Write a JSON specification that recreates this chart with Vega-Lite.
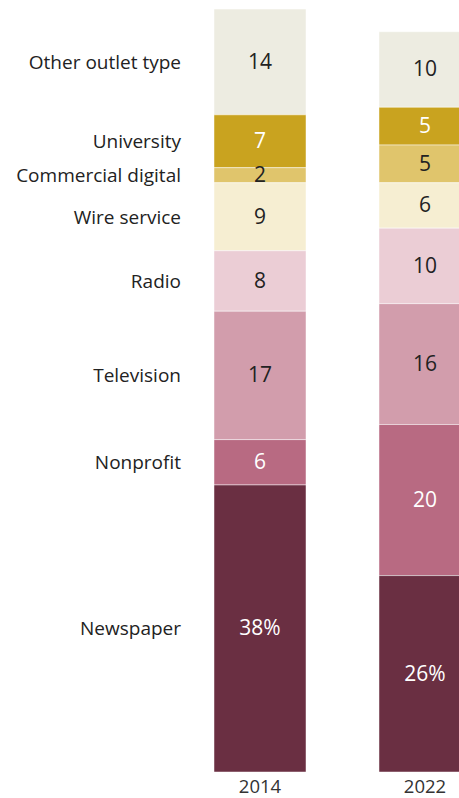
{
  "$schema": "https://vega.github.io/schema/vega-lite/v6.json",
  "autosize": {"type": "none"},
  "width": 245,
  "height": 772,
  "padding": {"left": 214, "top": 0, "right": 0, "bottom": 26},
  "background": "white",
  "config": {"view": {"stroke": null}, "font": "Open Sans"},
  "data": {
    "values": [
      {"year": "2014", "cat": "Other outlet type", "value": 14, "label": "14"},
      {"year": "2014", "cat": "University", "value": 7, "label": "7"},
      {"year": "2014", "cat": "Commercial digital", "value": 2, "label": "2"},
      {"year": "2014", "cat": "Wire service", "value": 9, "label": "9"},
      {"year": "2014", "cat": "Radio", "value": 8, "label": "8"},
      {"year": "2014", "cat": "Television", "value": 17, "label": "17"},
      {"year": "2014", "cat": "Nonprofit", "value": 6, "label": "6"},
      {"year": "2014", "cat": "Newspaper", "value": 38, "label": "38%"},
      {"year": "2022", "cat": "Other outlet type", "value": 10, "label": "10"},
      {"year": "2022", "cat": "University", "value": 5, "label": "5"},
      {"year": "2022", "cat": "Commercial digital", "value": 5, "label": "5"},
      {"year": "2022", "cat": "Wire service", "value": 6, "label": "6"},
      {"year": "2022", "cat": "Radio", "value": 10, "label": "10"},
      {"year": "2022", "cat": "Television", "value": 16, "label": "16"},
      {"year": "2022", "cat": "Nonprofit", "value": 20, "label": "20"},
      {"year": "2022", "cat": "Newspaper", "value": 26, "label": "26%"}
    ]
  },
  "transform": [
    {"calculate": "indexof(['Newspaper','Nonprofit','Television','Radio','Wire service','Commercial digital','University','Other outlet type'], datum.cat)", "as": "ord"},
    {"stack": "value", "groupby": ["year"], "sort": [{"field": "ord", "order": "ascending"}], "as": ["v0", "v1"]},
    {"calculate": "(datum.v0 + datum.v1) / 2", "as": "mid"}
  ],
  "encoding": {
    "x": {
      "field": "year",
      "type": "nominal",
      "scale": {"range": [0, 257], "paddingInner": 0.4424, "paddingOuter": 0},
      "axis": {"title": null, "ticks": false, "domain": false, "labelAngle": 0, "labelFontSize": 18.5, "labelColor": "#333333", "labelPadding": 5, "labelFont": "Open Sans"}
    }
  },
  "layer": [
    {
      "mark": {"type": "bar", "stroke": "#ffffff", "strokeWidth": 0.8, "strokeOpacity": 0.6},
      "encoding": {
        "y": {"field": "v0", "type": "quantitative", "scale": {"domain": [0, 102.2], "nice": false, "zero": true}, "axis": null},
        "y2": {"field": "v1"},
        "color": {
          "field": "cat",
          "type": "nominal",
          "legend": null,
          "scale": {
            "domain": ["Newspaper", "Nonprofit", "Television", "Radio", "Wire service", "Commercial digital", "University", "Other outlet type"],
            "range": ["#6a2f42", "#b86a82", "#d29dac", "#ebcdd5", "#f6eed2", "#e0c56c", "#c9a31f", "#edece1"]
          }
        }
      }
    },
    {
      "mark": {"type": "text", "fontSize": 21, "baseline": "middle", "align": "center", "dy": 1},
      "encoding": {
        "y": {"field": "mid", "type": "quantitative"},
        "text": {"field": "label"},
        "color": {
          "condition": {"test": "indexof(['University','Nonprofit','Newspaper'], datum.cat) >= 0", "value": "#ffffff"},
          "value": "#222222"
        }
      }
    },
    {
      "transform": [{"filter": "datum.year === '2014'"}],
      "mark": {"type": "text", "fontSize": 19, "baseline": "middle", "align": "right", "dx": -79, "dy": 1, "color": "#222222"},
      "encoding": {
        "y": {"field": "mid", "type": "quantitative"},
        "text": {"field": "cat"}
      }
    }
  ]
}
